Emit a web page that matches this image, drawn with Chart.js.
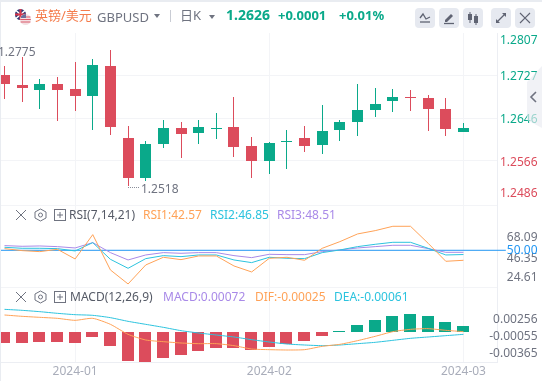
<!DOCTYPE html>
<html>
<head>
<meta charset="utf-8">
<script src="https://cdn.jsdelivr.net/npm/chart.js@4"></script>
<style>
html,body{margin:0;padding:0;background:#fff;overflow:hidden}
#wrap{position:relative;width:542px;height:381px;font-family:"Noto Sans","Noto Sans CJK SC",sans-serif;overflow:hidden}
canvas{position:absolute;left:0;top:0}
.t{position:absolute;white-space:nowrap;line-height:16px;font-size:12px}
.btn{position:absolute;top:8px;width:20px;height:20px;background:#e6e9f0;border-radius:4px}
svg{position:absolute}
</style>
</head>
<body>
<div id="wrap">
<canvas id="chart" width="542" height="381"></canvas>

<div style="position:absolute;left:0;top:0;width:542px;height:2px;background:#e9ecf1"></div>
<div style="position:absolute;left:0;top:0;width:1px;height:381px;background:#e9ecf1"></div>

<svg style="left:14px;top:8px" width="20" height="19" viewBox="0 0 20 19">
  <circle cx="6.5" cy="6.5" r="5.5" fill="#2a3a78"/>
  <path d="M2 2.5L11 10.5M11 2.5L2 10.5" stroke="#fff" stroke-width="1.6"/>
  <path d="M6.5 1V12M1 6.5H12" stroke="#d8364a" stroke-width="2"/>
  <circle cx="11.5" cy="11.5" r="5.5" fill="#f3dfe2"/>
  <path d="M6.6 9H16.4M6.2 11.5H16.8M6.6 14H16.4" stroke="#dc5a6a" stroke-width="1.2"/>
  <path d="M7 8.5A5.5 5.5 0 0 1 12 6V10H7Z" fill="#6b6f9c"/>
</svg>
<div class="t" style="left:35px;top:7px;font-size:13px;color:#f47c4c">英镑/美元</div>
<div class="t" style="left:97px;top:9px;font-size:13px;color:#6f7380">GBPUSD</div>
<svg style="left:154px;top:14px" width="6" height="4"><path d="M0 0H6L3 4Z" fill="#6f7380"/></svg>
<div style="position:absolute;left:170px;top:10px;width:1px;height:12px;background:#c9ccd4"></div>
<div class="t" style="left:180px;top:7px;font-size:13px;color:#6f7380">日K</div>
<svg style="left:209px;top:15px" width="6" height="4"><path d="M0 0H6L3 4Z" fill="#6f7380"/></svg>
<div class="t" style="left:226px;top:7px;font-size:14px;font-weight:700;color:#0aa98a">1.2626</div>
<div class="t" style="left:278px;top:7px;font-size:13px;font-weight:700;color:#0aa98a">+0.0001</div>
<div class="t" style="left:339px;top:7px;font-size:13px;font-weight:700;color:#0aa98a">+0.01%</div>

<div class="btn" style="left:415px"><svg width="20" height="20"><path d="M5 10L8 6L11 11L15 9" fill="none" stroke="#5f6372" stroke-width="1.3"/><path d="M5 14H15" stroke="#5f6372" stroke-width="1.3"/></svg></div>
<div class="btn" style="left:439px"><svg width="20" height="20"><path d="M6 12L12 6L14 8L8 14H6Z" fill="#5f6372"/><path d="M5 15.5H15" stroke="#5f6372" stroke-width="1.3"/></svg></div>
<div class="btn" style="left:463px"><svg width="20" height="20"><path d="M7 4V15M13 6V17" stroke="#5f6372"/><rect x="5" y="6" width="4" height="6" fill="#5f6372"/><rect x="11" y="8" width="4" height="7" fill="#5f6372"/></svg></div>
<div class="btn" style="left:491px"><svg width="20" height="20"><path d="M6 14L14 6" stroke="#5f6372" stroke-width="1.2"/><path d="M11 5H15V9Z M5 11V15H9Z" fill="#5f6372"/></svg></div>
<div class="btn" style="left:515px"><svg width="20" height="20"><path d="M5 5L15 15M15 5L5 15" stroke="#5f6372" stroke-width="1.2"/></svg></div>

<div class="t" id="hiLabel" style="left:-2px;top:44px;color:#6f7380"></div>
<div class="t" id="loLabel" style="left:141px;top:181px;color:#6f7380"></div>
<div style="position:absolute;left:128px;top:187px;width:11px;border-top:1px dotted #8a8e9a"></div>

<svg style="left:15px;top:209px" width="12" height="12"><path d="M1 1L11 11M11 1L1 11" stroke="#6f7380"/></svg>
<svg style="left:34px;top:208px" width="13" height="14"><path d="M6.5 1L12 4V10L6.5 13L1 10V4Z" fill="none" stroke="#6f7380"/><circle cx="6.5" cy="7" r="2" fill="none" stroke="#6f7380"/></svg>
<svg style="left:54px;top:209px" width="12" height="12"><rect x=".5" y=".5" width="11" height="11" fill="none" stroke="#6f7380"/><path d="M6 3V9M3 6H9" stroke="#6f7380"/></svg>
<div class="t" style="left:69px;top:207px;color:#555a66">RSI(7,14,21)</div>
<div class="t" style="left:143px;top:207px;color:#ffa257">RSI1:42.57</div>
<div class="t" style="left:210px;top:207px;color:#2cc3de">RSI2:46.85</div>
<div class="t" style="left:277px;top:207px;color:#a98ae8">RSI3:48.51</div>

<svg style="left:15px;top:291px" width="12" height="12"><path d="M1 1L11 11M11 1L1 11" stroke="#6f7380"/></svg>
<svg style="left:34px;top:290px" width="13" height="14"><path d="M6.5 1L12 4V10L6.5 13L1 10V4Z" fill="none" stroke="#6f7380"/><circle cx="6.5" cy="7" r="2" fill="none" stroke="#6f7380"/></svg>
<svg style="left:54px;top:291px" width="12" height="12"><rect x=".5" y=".5" width="11" height="11" fill="none" stroke="#6f7380"/><path d="M6 3V9M3 6H9" stroke="#6f7380"/></svg>
<div class="t" style="left:70px;top:289px;color:#555a66">MACD(12,26,9)</div>
<div class="t" style="left:163px;top:289px;color:#a98ae8">MACD:0.00072</div>
<div class="t" style="left:255px;top:289px;color:#ffa257">DIF:-0.00025</div>
<div class="t" style="left:334px;top:289px;color:#2cc3de">DEA:-0.00061</div>

<svg style="left:527px;top:66px" width="15" height="62"><path d="M0 16L15 0V62L0 54Z" fill="#e9ebf1" fill-opacity=".65"/><path d="M9 26L4 31L9 36" fill="none" stroke="#6f7380" stroke-width="1.6"/></svg>
</div>

<script>
// candles, oldest first
var opens  = [1.27279,1.2709,1.26996,1.27109,1.27014,1.26882,1.27449,1.26088,1.25332,1.25975,1.26277,1.26183,1.26265,1.26296,1.25937,1.25654,1.26019,1.26088,1.25956,1.26239,1.26391,1.26618,1.26788,1.26863,1.26844,1.26636,1.26202];
var closes = [1.27109,1.27033,1.27109,1.26996,1.26882,1.27468,1.26296,1.25332,1.25975,1.26277,1.26164,1.26296,1.26277,1.25918,1.25654,1.25994,1.26032,1.25937,1.26221,1.26391,1.26618,1.26731,1.26863,1.26851,1.26636,1.26258,1.26277];
var highs  = [1.27449,1.27619,1.27203,1.27241,1.27525,1.27581,1.2775,1.26315,1.26032,1.26428,1.26391,1.26428,1.26561,1.26863,1.26107,1.26013,1.26239,1.26315,1.26712,1.26428,1.27109,1.27033,1.27014,1.26996,1.26901,1.26844,1.26372];
var lows   = [1.26825,1.26769,1.26636,1.2641,1.26599,1.26239,1.26145,1.2518,1.25276,1.25899,1.2571,1.25975,1.26069,1.25729,1.25332,1.25408,1.25502,1.25824,1.25786,1.26032,1.26126,1.26485,1.2658,1.26599,1.26221,1.26126,1.26202];

var rsi1 = [51.24,49.75,49.01,50.74,43.56,61.64,35.39,24.98,39.1,44.8,43.06,45.79,45.79,38.36,33.9,44.06,44.8,42.57,51.49,56.44,62.14,64.61,67.83,67.83,55.2,41.83,42.57];
var rsi2 = [52.23,51.49,51.49,51.24,49.5,55.7,43.31,36.62,43.81,46.04,45.29,46.53,46.53,42.82,40.84,44.8,44.06,43.81,48.27,50.25,52.72,54.46,55.94,55.94,51.49,46.53,46.85];
var rsi3 = [53.47,52.97,53.22,52.72,51.73,55.7,48.27,42.82,46.53,48.27,47.77,48.27,48.27,46.04,44.55,47.03,46.78,46.78,49.01,50.25,51.73,52.72,53.72,53.72,51.24,48.51,48.51];

var macdHist = [-0.00132,-0.00132,-0.0012,-0.0012,-0.00132,-0.0006,-0.00168,-0.00348,-0.0036,-0.00312,-0.00276,-0.00228,-0.00192,-0.00192,-0.00216,-0.0018,-0.00144,-0.00108,-0.00048,0.00012,0.00084,0.00144,0.00192,0.00216,0.00192,0.0012,0.00072];
var dif = [0.00204,0.00188,0.00176,0.00164,0.0014,0.00164,0.00092,-0.00028,-0.00096,-0.00116,-0.00132,-0.0014,-0.0014,-0.00164,-0.00204,-0.00212,-0.00216,-0.00212,-0.00172,-0.00148,-0.00104,-0.00052,0.00004,0.00032,0.0004,0.0002,0.00004];
var dea = [0.00272,0.0026,0.00244,0.00224,0.00208,0.002,0.00172,0.00128,0.00092,0.00056,0.00016,-0.00012,-0.00036,-0.0006,-0.00092,-0.0012,-0.00144,-0.00156,-0.00164,-0.00156,-0.0014,-0.00124,-0.001,-0.00076,-0.0006,-0.00044,-0.00028];

var monthLabels = ["2024-01","2024-02","2024-03"];
var monthIndex = [4,15,26];

var priceLabels = ["1.2807","1.2727","1.2646","1.2566","1.2486"];
var rsiLabels = ["68.09","46.35","24.61","50.00"];
var macdLabels = ["0.00256","-0.00055","-0.00365"];

var RED = "#dc4c5c", GREEN = "#0aa98a", GRID = "#f3f4f7", EDGE = "#eceef3";
var ORANGE = "#ffa257", CYAN = "#2cc3de", PURPLE = "#a98ae8", BLUE = "#2196f3";

document.getElementById("hiLabel").textContent = Math.max.apply(null, highs).toFixed(4);
document.getElementById("loLabel").textContent = Math.min.apply(null, lows).toFixed(4);

function points(arr){
  return arr.map(function(v,i){ return {x:i, y:v}; });
}
function lineSet(arr, color, axis, tension){
  return {type:"line", data:points(arr), borderColor:color, borderWidth:1, pointRadius:0, tension:tension, yAxisID:axis};
}
var candleColors = closes.map(function(c,i){ return c >= opens[i] ? GREEN : RED; });

// snap bars to whole pixels, the original chart has crisp candles
var crispBars = {
  id:"crispBars",
  beforeDatasetsDraw:function(chart){
    chart.data.datasets.forEach(function(ds,n){
      if(ds.type !== "bar") return;
      chart.getDatasetMeta(n).data.forEach(function(el){
        el.x = ds.barThickness % 2 ? Math.floor(el.x)+0.5 : Math.floor(el.x);
        var top = Math.round(el.y), bottom = Math.round(el.base);
        if(top === bottom) bottom = top+1;
        el.y = top; el.base = bottom;
      });
    });
  }
};

// right hand labels, the edge ones sit inside their panel
var axisText = {
  id:"axisText",
  afterDraw:function(chart){
    var ctx = chart.ctx;
    function put(axis, value, text, color, shift){
      ctx.fillStyle = color;
      ctx.fillText(text, 537.5, chart.scales[axis].getPixelForValue(value)+shift);
    }
    ctx.save();
    ctx.font = '12px "Noto Sans"';
    ctx.textAlign = "right";
    ctx.textBaseline = "middle";
    put("yPrice", 1.2807, priceLabels[0], GREEN, 8);
    put("yPrice", 1.2727, priceLabels[1], GREEN, 1);
    put("yPrice", 1.2646, priceLabels[2], GREEN, 1);
    put("yPrice", 1.2566, priceLabels[3], RED, 2);
    put("yPrice", 1.2486, priceLabels[4], RED, -9);
    put("yRsi", 68.09, rsiLabels[0], "#6f7380", 12);
    put("yRsi", 46.35, rsiLabels[1], "#6f7380", 3);
    put("yRsi", 24.61, rsiLabels[2], "#6f7380", -7);
    put("yRsi", 50, rsiLabels[3], BLUE, 0);
    put("yMacd", 0.00256, macdLabels[0], "#6f7380", 9);
    put("yMacd", -0.00055, macdLabels[1], "#6f7380", 0);
    put("yMacd", -0.00365, macdLabels[2], "#6f7380", -9);
    ctx.restore();
  }
};

function panelAxis(min, max, weight, order, gridValues){
  return {
    type:"linear", position:"right", stack:"panels", stackWeight:weight, weight:order,
    min:min, max:max,
    ticks:{display:false},
    grid:{color:GRID, drawTicks:false},
    border:{display:true, color:EDGE},
    afterBuildTicks:function(s){ s.ticks = gridValues.map(function(v){ return {value:v}; }); },
    afterFit:function(s){ s.width = 45; }
  };
}

var refLine = lineSet([50,50], BLUE, "yRsi", 0);
refLine.data = [{x:-0.3,y:50},{x:28.4,y:50}];
refLine.clip = false;

new Chart(document.getElementById("chart"), {
  type:"bar",
  data:{datasets:[
    lineSet(rsi1, ORANGE, "yRsi", 0),
    lineSet(rsi2, CYAN, "yRsi", 0),
    lineSet(rsi3, PURPLE, "yRsi", 0),
    refLine,
    lineSet(dif, ORANGE, "yMacd", 0.2),
    lineSet(dea, CYAN, "yMacd", 0.2),
    {type:"bar", data:points(macdHist), yAxisID:"yMacd", barThickness:12, grouped:false, inflateAmount:0,
      backgroundColor:macdHist.map(function(v){ return v >= 0 ? GREEN : RED; })},
    {type:"bar", data:points(opens.map(function(o,i){ return [o,closes[i]]; })), yAxisID:"yPrice", barThickness:11, grouped:false, inflateAmount:0, backgroundColor:candleColors},
    {type:"bar", data:points(lows.map(function(l,i){ return [l,highs[i]]; })), yAxisID:"yPrice", barThickness:1, grouped:false, inflateAmount:0, backgroundColor:candleColors}
  ]},
  options:{
    responsive:false,
    animation:false,
    layout:{padding:{top:33,left:0,right:0,bottom:0}},
    plugins:{legend:{display:false},tooltip:{enabled:false}},
    scales:{
      x:{
        type:"linear", min:-0.255, max:27.9, position:"bottom", offset:false,
        grid:{color:GRID, drawTicks:false, offset:false},
        border:{color:EDGE},
        ticks:{
          color:"#a9adba", font:{size:12,family:"Noto Sans"}, maxRotation:0, autoSkip:false, padding:2,
          callback:function(v){ return monthLabels[monthIndex.indexOf(v)]; }
        },
        afterBuildTicks:function(s){ s.ticks = monthIndex.map(function(v){ return {value:v}; }); },
        afterFit:function(s){ s.height = 19; }
      },
      yPrice:panelAxis(1.24821, 1.2807, 172, 1, [1.2727,1.2646,1.2566]),
      yRsi:panelAxis(22.73, 83.65, 82, 2, [83.65]),
      yMacd:panelAxis(-0.0036, 0.0054, 75, 3, [0.0054])
    }
  },
  plugins:[crispBars, axisText]
});
</script>
</body>
</html>
